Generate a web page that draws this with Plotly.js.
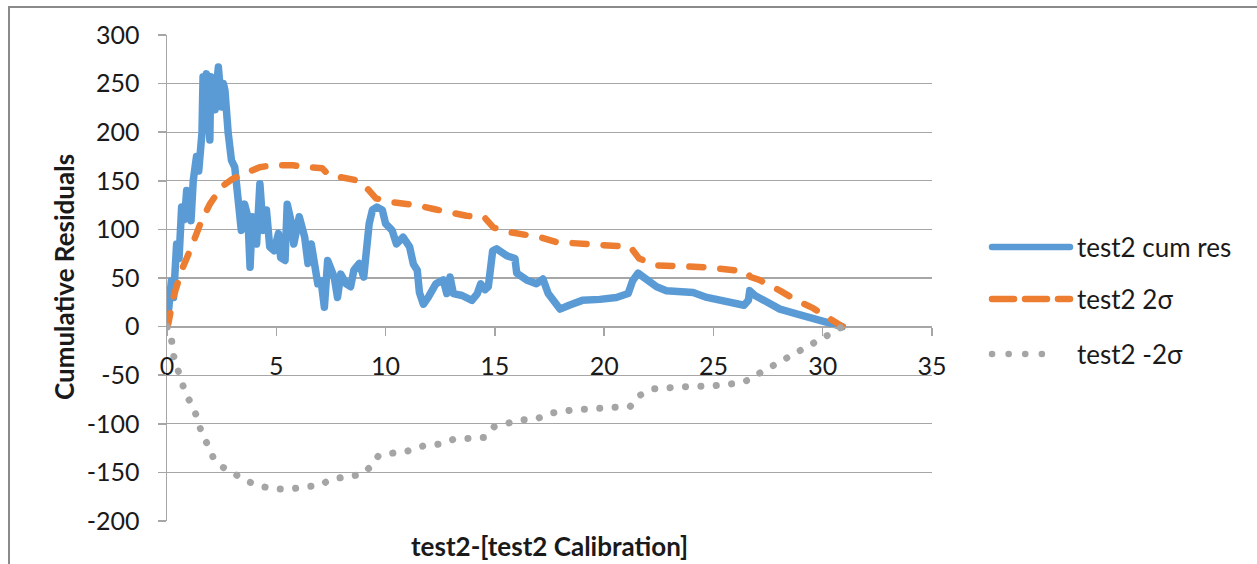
<!DOCTYPE html>
<html>
<head>
<meta charset="utf-8">
<script src="https://cdn.plot.ly/plotly-3.0.1.min.js"></script>
<style>
  html, body { margin: 0; padding: 0; background: #fff; overflow: hidden; }
  #wrap { position: relative; width: 1257px; height: 564px; }
  #chart { position: absolute; left: 0; top: 0; width: 1257px; height: 564px; }
  #frame { position: absolute; left: 8px; top: 6px; width: 1400px; height: 700px;
           border-top: 2px solid #8a8a8a; border-left: 2px solid #8a8a8a; pointer-events: none; }
  .scatterlayer .js-line, .shapelayer path { stroke-linecap: round !important; stroke-linejoin: round !important; }
</style>
</head>
<body>
<div id="wrap"><div id="chart"></div><div id="frame"></div></div>
<script>
// ---- data ----
const cumResX = [0,0.06,0.2,0.3,0.44,0.55,0.67,0.8,0.9,1.0,1.1,1.2,1.35,1.45,1.6,1.65,1.72,1.8,1.9,1.96,2.0,2.1,2.2,2.28,2.35,2.45,2.5,2.58,2.65,2.8,2.95,3.1,3.2,3.25,3.4,3.55,3.7,3.8,3.9,4.0,4.1,4.25,4.35,4.4,4.55,4.7,4.9,5.1,5.2,5.4,5.5,5.7,5.8,5.95,6.05,6.3,6.45,6.6,6.75,6.9,7.05,7.2,7.35,7.5,7.65,7.8,7.95,8.2,8.4,8.55,8.8,9.0,9.1,9.25,9.4,9.6,9.85,10.0,10.3,10.5,10.8,11.0,11.1,11.27,11.45,11.55,11.73,11.95,12.3,12.64,12.8,12.95,13.1,13.5,13.95,14.2,14.35,14.55,14.7,14.9,15.08,15.54,15.92,16.0,16.45,16.9,17.2,17.44,17.75,17.98,18.4,19.0,19.8,20.56,21.1,21.3,21.55,21.9,22.4,22.85,23.5,24.07,24.7,25.3,25.9,26.4,26.6,26.66,26.9,27.4,28.04,28.8,29.56,30.33,30.9];
const cumResY = [0,10,47,30,85,70,123,110,140,125,109,150,175,160,199,257,230,260,220,192,257,235,223,250,267,240,226,250,243,199,171,164,140,123,99,126,113,61,113,95,85,147,120,99,120,82,78,96,71,68,126,106,85,100,113,92,65,85,65,44,47,20,68,61,51,30,54,44,41,58,65,51,78,106,120,123,120,106,99,85,92,85,82,64.5,58,35,23,30,44,48,34,51,34,32,27,34,44,38,41,78,80,73,70,55,48,44,49,34,24,18,22,27,28,30,34,47,55,50,41,37,36,35,30,27,23,22,27,37,32,25,18,13,8,3,0];

const upperX = [0,0.06,0.29,0.67,1.12,1.58,1.96,2.5,3.0,3.6,4.24,4.85,5.76,6.37,7.1,7.4,8.2,8.8,9.25,9.56,10.3,11.4,12.2,13.7,14.5,14.93,15.7,17.06,17.8,19.0,20.4,21.2,21.6,22.4,23.6,24.7,25.98,26.5,26.7,27.1,28.04,28.8,29.56,30.33,30.9];
const upperY = [0,3,30,58,82,109,126,144,152,157,164,166,166,164,163,156,152,150,140,132,128,125,121,114,113,102,97,92,87,85,84,82,70,63,62,61,58,56,51,48,37,27,19,8,0];

const lowerX = [0,0.21,0.29,0.44,0.67,0.9,1.2,1.43,1.6,1.9,2.12,2.58,3.1,3.67,4.25,4.9,5.63,6.3,7.0,7.53,8.2,8.9,9.33,9.67,10.35,11.0,11.7,12.4,13.1,13.8,14.5,14.97,15.6,16.2,16.9,17.6,18.5,19.5,20.5,21.2,21.6,22.3,23.5,25.0,26.2,26.6,27.1,28.0,28.8,29.6,30.3,30.9];
const lowerY = [0,-14,-29,-43,-57,-71,-83,-97,-111,-123,-135,-145,-152,-159,-164,-167,-167,-165,-163,-157,-154,-152,-144,-133,-130,-128,-123,-121,-116,-115,-114,-103,-100,-96,-95,-89,-86,-85,-84,-82,-71,-64,-62,-61,-58,-55,-48,-37,-27,-18,-8,0];

const seriesNames = ['test2 cum res', 'test2 2\u03c3', 'test2 -2\u03c3'];
const seriesColors = ['#5B9BD5', '#ED7D31', '#A5A5A5'];
const xTicks = [0,5,10,15,20,25,30,35];
const yTicks = [300,250,200,150,100,50,0,-50,-100,-150,-200];
const xTitle = 'test2-[test2 Calibration]';
const yTitle = 'Cumulative Residuals';

const FONT = 'Lato, "Open Sans", sans-serif';
const TXT = '#1a1a1a';
const GRID = '#a6a6a6';
const TICKSIZE = 25, LEGSIZE = 26, TITLESIZE = 26;

const traces = [
  {x: cumResX, y: cumResY, type: 'scatter', mode: 'lines', name: seriesNames[0],
   line: {color: seriesColors[0], width: 7.5}},
  {x: upperX, y: upperY, type: 'scatter', mode: 'lines', name: seriesNames[1],
   line: {color: seriesColors[1], width: 6.5, dash: '14px,17px'}},
  {x: lowerX, y: lowerY, type: 'scatter', mode: 'lines', name: seriesNames[2],
   line: {color: seriesColors[2], width: 7, dash: '0.1px,15.3px'}}
];

// custom legend (long sample lines like the reference)
const L = {l: 167, r: 325, t: 35, b: 43};
const pw = 1257 - L.l - L.r, ph = 564 - L.t - L.b;
const px = v => (v - L.l) / pw;
const py = v => (564 - L.b - v) / ph;
const legendRows = [247, 299, 354];
const legendDash = ['solid', '22px,11px', '0.1px,16.5px'];
const shapes = [], annotations = [];
seriesNames.forEach((n, i) => {
  shapes.push({type: 'line', xref: 'paper', yref: 'paper',
    x0: px(992), x1: px(i === 2 ? 1058 : 1070), y0: py(legendRows[i]), y1: py(legendRows[i]),
    line: {color: seriesColors[i], width: 6.5, dash: legendDash[i]}});
  annotations.push({xref: 'paper', yref: 'paper', x: px(1075), y: py(legendRows[i]),
    xanchor: 'left', yanchor: 'middle', showarrow: false, text: n,
    font: {family: FONT, size: LEGSIZE, color: TXT}});
});
annotations.push({xref: 'paper', yref: 'paper', x: px(549), y: py(546), xanchor: 'center', yanchor: 'middle',
  showarrow: false, text: '<b>' + xTitle + '</b>', font: {family: FONT, size: TITLESIZE, color: TXT}});
annotations.push({xref: 'paper', yref: 'paper', x: px(64), y: py(277), xanchor: 'center', yanchor: 'middle',
  showarrow: false, textangle: -90, text: '<b>' + yTitle + '</b>', font: {family: FONT, size: TITLESIZE, color: TXT}});

const layout = {
  width: 1257, height: 564,
  margin: L,
  paper_bgcolor: 'rgba(0,0,0,0)', plot_bgcolor: '#fff',
  showlegend: false,
  font: {family: FONT, size: TICKSIZE, color: TXT},
  xaxis: {range: [0, 35], tickvals: xTicks, ticktext: xTicks.map(String),
    showgrid: false, zeroline: false, showline: true, linecolor: GRID, linewidth: 1.5,
    ticks: 'outside', ticklen: 8, tickcolor: GRID, tickwidth: 1.5,
    anchor: 'free', position: 0.4, ticklabelstandoff: 9,
    tickfont: {family: FONT, size: TICKSIZE, color: TXT}},
  yaxis: {range: [-200, 300], tickvals: yTicks, ticktext: yTicks.map(String),
    showgrid: true, gridcolor: GRID, gridwidth: 1.3, zeroline: false,
    showline: true, linecolor: GRID, linewidth: 1.5,
    ticks: 'outside', ticklen: 8, tickcolor: GRID, tickwidth: 1.5, ticklabelstandoff: 13,
    tickfont: {family: FONT, size: TICKSIZE, color: TXT}},
  shapes: shapes,
  annotations: annotations
};

Plotly.newPlot('chart', traces, layout, {displayModeBar: false, staticPlot: true});
</script>
</body>
</html>
